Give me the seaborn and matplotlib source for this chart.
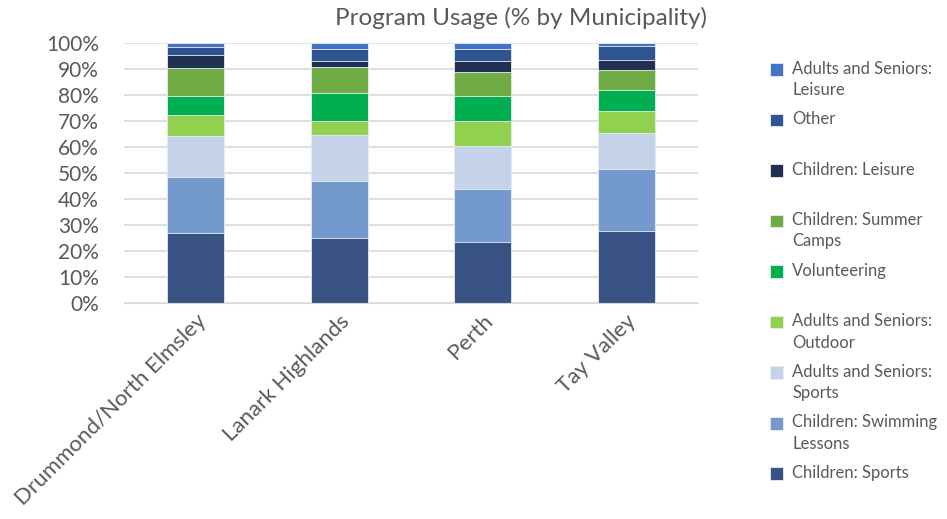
import numpy as np
import pandas as pd
import matplotlib.pyplot as plt
import seaborn as sns

municipalities = ["Drummond/North Elmsley", "Lanark Highlands", "Perth", "Tay Valley"]

# share of usage (%) per program, bottom segment first
children_sports = [26.7, 25.0, 23.2, 27.7]
children_swimming = [21.8, 22.0, 20.7, 23.7]
adults_sports = [15.7, 17.5, 16.4, 14.0]
adults_outdoor = [8.1, 5.5, 9.8, 8.4]
volunteering = [7.5, 10.9, 9.7, 8.3]
children_camps = [10.7, 9.8, 9.0, 7.6]
children_leisure = [5.1, 2.4, 4.4, 3.7]
other = [2.9, 4.6, 4.5, 5.6]
adults_leisure = [1.5, 2.3, 2.3, 1.0]

series = [
    ("Children: Sports", children_sports, "#375283"),
    ("Children: Swimming\nLessons", children_swimming, "#7399CD"),
    ("Adults and Seniors:\nSports", adults_sports, "#C5D3EA"),
    ("Adults and Seniors:\nOutdoor", adults_outdoor, "#92D050"),
    ("Volunteering", volunteering, "#00AF50"),
    ("Children: Summer\nCamps", children_camps, "#70AB46"),
    ("Children: Leisure", children_leisure, "#203050"),
    ("Other", other, "#2F5591"),
    ("Adults and Seniors:\nLeisure", adults_leisure, "#4472C4"),
]

sns.set_style("white")
plt.rcParams['font.family'] = ['Lato', 'DejaVu Sans']

fig = plt.figure(figsize=(9.47, 5.19), dpi=100)
ax = fig.add_axes([0.131, 0.417, 0.606, 0.4996])

cum = np.cumsum([s[1] for s in series], axis=0)
# draw from the top segment down so lower stacks overlay
for i in range(len(series) - 1, -1, -1):
    name, vals, color = series[i]
    df = pd.DataFrame({"m": municipalities, "v": cum[i]})
    # every legend label takes two lines
    lab = name if "\n" in name else name + "\n "
    sns.barplot(data=df, x="m", y="v", color=color, width=0.4, ax=ax,
                saturation=1, edgecolor="#E8EDF5", linewidth=0.6, label=lab)

ax.set_ylim(0, 100)
ax.set_xlim(-0.5, 3.5)
ax.set_yticks(np.arange(0, 101, 10))
ax.set_yticklabels([f"{t}%" for t in range(0, 101, 10)])
ax.yaxis.grid(True, color="#D9D9D9", linewidth=1.2)
ax.set_axisbelow(True)
for s in ["top", "right", "left"]:
    ax.spines[s].set_visible(False)
ax.spines["bottom"].set_color("#D9D9D9")
ax.tick_params(axis="y", labelsize=15, colors="#595959", length=0, pad=18)
ax.tick_params(axis="x", labelsize=16, colors="#595959", length=0, pad=6)
plt.setp(ax.get_xticklabels(), rotation=45, ha="right", rotation_mode="anchor")
ax.set_xlabel("")
ax.set_ylabel("")

fig.suptitle("Program Usage (% by Municipality)", x=0.55, y=0.987, fontsize=17.5, color="#595959")

handles, labels = ax.get_legend_handles_labels()
if ax.get_legend():
    ax.get_legend().remove()
fs = 12
leg = fig.legend(handles, labels, loc="upper left", bbox_to_anchor=(0.797, 0.912),
                 frameon=False, fontsize=fs, labelcolor="#595959", handlelength=0.8,
                 handleheight=0.8, handletextpad=0.55, labelspacing=0.8)
for t in leg.get_texts():
    t.set_linespacing(1.4)
# lift markers level with the first text line
for h in leg.legend_handles:
    h.set_y(h.get_y() + 7.6)

fig.savefig("out.png", dpi=100)
